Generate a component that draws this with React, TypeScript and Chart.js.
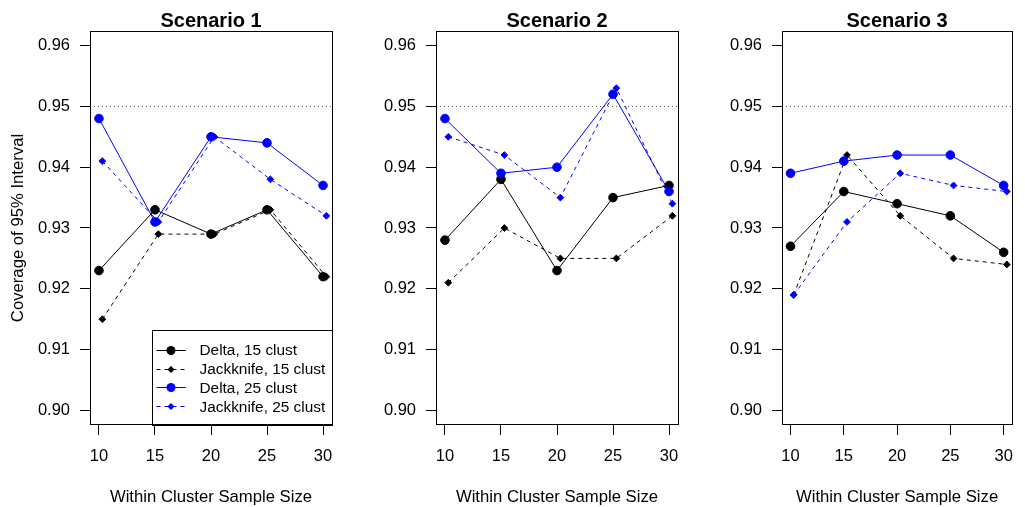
import React, { useEffect, useRef } from "react";
import { Chart, registerables } from "chart.js";

Chart.register(...registerables);

// ---------- data ----------
const sampleSizes = [10, 15, 20, 25, 30];
const yTickValues = [0.9, 0.91, 0.92, 0.93, 0.94, 0.95, 0.96];
const scenarioTitles = ["Scenario 1", "Scenario 2", "Scenario 3"];
const seriesLabels = [
  "Delta, 15 clust",
  "Jackknife, 15 clust",
  "Delta, 25 clust",
  "Jackknife, 25 clust",
];
const nominalCoverage = 0.95;

const s1Delta15 = [0.923, 0.933, 0.929, 0.933, 0.922];
const s1Jack15 = [0.915, 0.929, 0.929, 0.933, 0.922];
const s1Delta25 = [0.948, 0.931, 0.945, 0.944, 0.937];
const s1Jack25 = [0.941, 0.931, 0.945, 0.938, 0.932];

const s2Delta15 = [0.928, 0.938, 0.923, 0.935, 0.937];
const s2Jack15 = [0.921, 0.93, 0.925, 0.925, 0.932];
const s2Delta25 = [0.948, 0.939, 0.94, 0.952, 0.936];
const s2Jack25 = [0.945, 0.942, 0.935, 0.953, 0.934];

const s3Delta15 = [0.927, 0.936, 0.934, 0.932, 0.926];
const s3Jack15 = [0.919, 0.942, 0.932, 0.925, 0.924];
const s3Delta25 = [0.939, 0.941, 0.942, 0.942, 0.937];
const s3Jack25 = [0.919, 0.931, 0.939, 0.937, 0.936];

const scenarioSeries = [
  [s1Delta15, s1Jack15, s1Delta25, s1Jack25],
  [s2Delta15, s2Jack15, s2Delta25, s2Jack25],
  [s3Delta15, s3Jack15, s3Delta25, s3Jack25],
];

// ---------- styling ----------
const JACK_SHIFT = 0.3;
const FONT = '"Liberation Sans", Arial, Helvetica, sans-serif';
const BLUE = "#0000ff";
const BLACK = "#000000";
const seriesColors = [BLACK, BLACK, BLUE, BLUE];
const seriesIsJack = [false, true, false, true];

const PANEL_STEP = 346;
const TOTAL_W = 1025;
const TOTAL_H = 507;
const AREA_LEFT = 90;
const AREA_RIGHT = 332;
const AREA_TOP = 31;
const AREA_BOTTOM = 425;

function drawMarker(ctx: CanvasRenderingContext2D, x: number, y: number, jack: boolean, color: string) {
  ctx.fillStyle = color;
  ctx.beginPath();
  if (jack) {
    const r = 3.6;
    ctx.moveTo(x, y - r);
    ctx.lineTo(x + r, y);
    ctx.lineTo(x, y + r);
    ctx.lineTo(x - r, y);
    ctx.closePath();
  } else {
    ctx.arc(x, y, 4.5, 0, Math.PI * 2);
  }
  ctx.fill();
}

function makeDecor(idx: number) {
  return {
    id: "decor" + idx,
    beforeDatasetsDraw(chart: any) {
      const { ctx, chartArea: a, scales } = chart;
      const y = Math.round(scales.y.getPixelForValue(nominalCoverage)) + 0.5;
      ctx.save();
      ctx.strokeStyle = "#666666";
      ctx.lineWidth = 1;
      ctx.setLineDash([1, 3]);
      ctx.beginPath();
      ctx.moveTo(a.left, y);
      ctx.lineTo(a.right, y);
      ctx.stroke();
      ctx.restore();
    },
    afterDraw(chart: any) {
      const { ctx, chartArea: a } = chart;
      ctx.save();
      // legend (panel 1)
      if (idx === 0) {
        const lx = a.left + 63;
        const ly = a.top + 300;
        ctx.fillStyle = "#ffffff";
        ctx.fillRect(lx, ly, a.right - lx, a.bottom - ly);
        ctx.strokeStyle = BLACK;
        ctx.lineWidth = 1;
        ctx.setLineDash([]);
        ctx.strokeRect(Math.round(lx) - 0.5, Math.round(ly) - 0.5, a.right - lx + 1, a.bottom - ly + 1);
        ctx.font = "15.4px " + FONT;
        ctx.textAlign = "left";
        ctx.textBaseline = "middle";
        for (let i = 0; i < seriesLabels.length; i++) {
          const cy = ly + 18.6 + i * 18.9;
          const color = seriesColors[i];
          ctx.strokeStyle = color;
          ctx.setLineDash(seriesIsJack[i] ? [4, 4] : []);
          ctx.beginPath();
          ctx.moveTo(lx + 3.5, Math.round(cy) + 0.5);
          ctx.lineTo(lx + 33, Math.round(cy) + 0.5);
          ctx.stroke();
          ctx.setLineDash([]);
          drawMarker(ctx, lx + 18, Math.round(cy) + 0.5, seriesIsJack[i], color);
          ctx.fillStyle = BLACK;
          ctx.fillText(seriesLabels[i], lx + 46.5, cy + 1);
        }
      }
      // box
      ctx.strokeStyle = BLACK;
      ctx.lineWidth = 1;
      ctx.setLineDash([]);
      ctx.strokeRect(Math.round(a.left) + 0.5, Math.round(a.top) + 0.5, Math.round(a.right - a.left), Math.round(a.bottom - a.top) - 1);
      // title
      const cx = (a.left + a.right) / 2;
      ctx.fillStyle = BLACK;
      ctx.textAlign = "center";
      ctx.textBaseline = "middle";
      ctx.font = "bold 20px " + FONT;
      ctx.fillText(scenarioTitles[idx], cx, 21);
      // x title
      ctx.font = "16.7px " + FONT;
      ctx.fillText("Within Cluster Sample Size", cx, 497);
      // y title
      if (idx === 0) {
        ctx.translate(18.5, (a.top + a.bottom) / 2);
        ctx.rotate(-Math.PI / 2);
        ctx.fillText("Coverage of 95% Interval", 0, 0);
      }
      ctx.restore();
    },
  };
}

function Panel({ idx }: { idx: number }) {
  const ref = useRef<HTMLCanvasElement | null>(null);
  const left = idx * PANEL_STEP;
  const width = idx < 2 ? PANEL_STEP : TOTAL_W - left;

  useEffect(() => {
    if (!ref.current) return;
    const series = scenarioSeries[idx];
    const datasets = series.map((vals, i) => {
      const jack = seriesIsJack[i];
      return {
        label: seriesLabels[i],
        data: sampleSizes.map((s, k) => ({ x: jack ? s + JACK_SHIFT : s, y: vals[k] })),
        borderColor: seriesColors[i],
        backgroundColor: seriesColors[i],
        pointBackgroundColor: seriesColors[i],
        pointBorderColor: seriesColors[i],
        borderWidth: 1,
        borderDash: jack ? [4, 4] : [],
        pointStyle: jack ? "rectRot" : "circle",
        pointRadius: jack ? 3.4 : 4.3,
        pointBorderWidth: 1,
        pointHoverRadius: jack ? 3.4 : 4.3,
        tension: 0,
        fill: false,
        order: 4 - i,
      };
    });
    const chart = new Chart(ref.current, {
      type: "line",
      data: { datasets },
      plugins: [makeDecor(idx)],
      options: {
        animation: false,
        responsive: false,
        maintainAspectRatio: false,
        events: [],
        layout: {
          padding: { left: 0, right: width - AREA_RIGHT, top: AREA_TOP, bottom: 0 },
        },
        plugins: {
          legend: { display: false },
          title: { display: false },
          tooltip: { enabled: false },
        },
        scales: {
          x: {
            type: "linear",
            min: 9.2,
            max: 30.8,
            afterBuildTicks: (s: any) => {
              s.ticks = sampleSizes.map((v) => ({ value: v }));
            },
            afterFit: (s: any) => {
              s.height = TOTAL_H - AREA_BOTTOM;
            },
            grid: { drawOnChartArea: false, drawTicks: true, tickLength: 10, color: BLACK, lineWidth: 1 },
            border: { display: false },
            ticks: {
              color: BLACK,
              font: { family: FONT, size: 16.5 },
              padding: 12,
              maxRotation: 0,
              autoSkip: false,
              callback: (v: any) => String(v),
            },
          },
          y: {
            type: "linear",
            min: 0.8976,
            max: 0.9624,
            afterBuildTicks: (s: any) => {
              s.ticks = yTickValues.map((v) => ({ value: v }));
            },
            afterFit: (s: any) => {
              s.width = AREA_LEFT;
            },
            grid: { drawOnChartArea: false, drawTicks: true, tickLength: 10, color: BLACK, lineWidth: 1 },
            border: { display: false },
            ticks: {
              color: BLACK,
              font: { family: FONT, size: 16.5 },
              padding: 10,
              autoSkip: false,
              callback: (v: any) => Number(v).toFixed(2),
            },
          },
        },
      } as any,
    });
    return () => chart.destroy();
  }, [idx]);

  return (
    <canvas
      ref={ref}
      width={width}
      height={TOTAL_H}
      style={{ position: "absolute", left, top: 0, width, height: TOTAL_H, display: "block" }}
    />
  );
}

export default function App() {
  return (
    <div
      style={{
        position: "fixed",
        left: 0,
        top: 0,
        width: TOTAL_W,
        height: TOTAL_H,
        background: "#ffffff",
        overflow: "hidden",
      }}
    >
      {[0, 1, 2].map((i) => (
        <Panel key={i} idx={i} />
      ))}
    </div>
  );
}
